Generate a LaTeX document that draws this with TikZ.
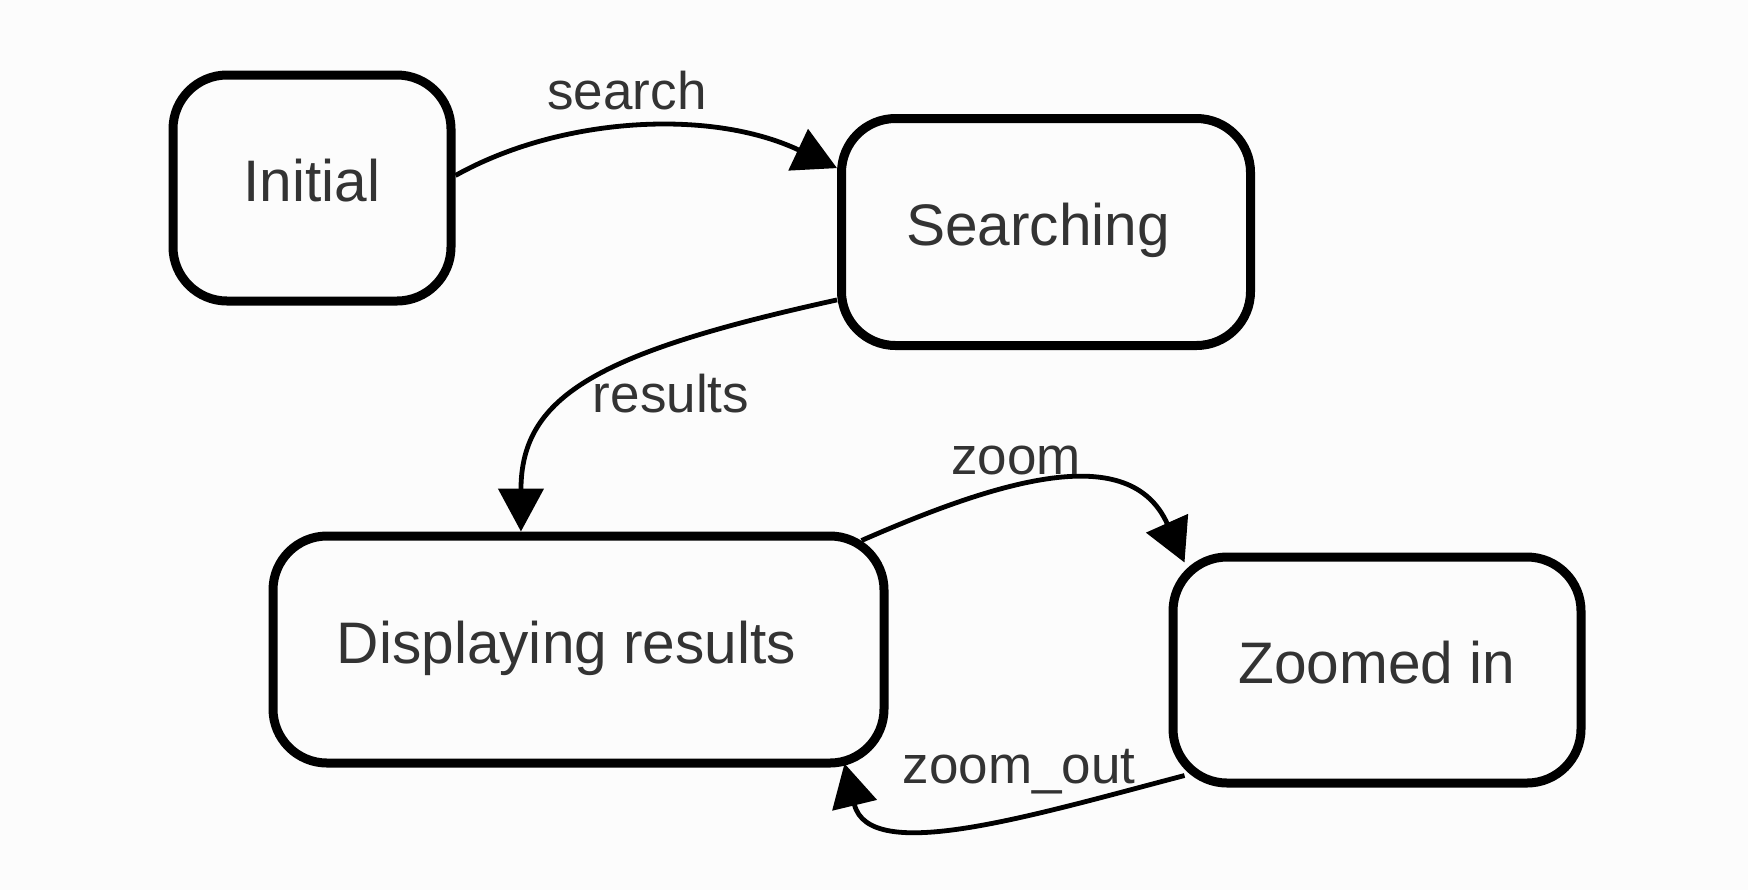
\documentclass[tikz,border=0pt]{standalone}
\usepackage{fontspec}
\setmainfont{Liberation Sans}
\usetikzlibrary{arrows.meta}
\definecolor{txt}{HTML}{333333}
\definecolor{bg}{HTML}{FCFCFC}
\begin{document}
\begin{tikzpicture}[x=0.5pt,y=-0.5pt,
  state/.style={draw=black, line width=4.5pt, rounded corners=27pt, text=txt,
    font=\fontsize{29.3}{34}\selectfont, text height=20pt, text depth=6.5pt, inner sep=0pt},
  lbl/.style={text=txt, font=\fontsize{26.5}{32}\selectfont, inner sep=0pt, anchor=base},
  conn/.style={line width=2.4pt, -{Triangle[length=21.5pt,width=22.5pt]}}
]
\path[fill=bg, use as bounding box] (0,0) rectangle (1748,890);

\node[state, minimum width=139pt, minimum height=113pt] (init) at (312,188) {Initial};
\node[state, minimum width=204.5pt, minimum height=113.5pt] (srch) at (1046,232) {\hspace*{-8pt}Searching};
\node[state, minimum width=305.5pt, minimum height=113.5pt] (disp) at (578.5,649.5) {\hspace*{-12pt}Displaying results};
\node[state, minimum width=204pt, minimum height=113pt] (zoom) at (1377,670) {Zoomed in};

\draw[conn] (init.5) .. controls (560,117) and (710,108) .. (srch.163);
\draw[conn] (srch.198) .. controls (600,352) and (521,395) .. (disp.116);
\draw[conn] ([shift={(-27,9)}]disp.north east) .. controls (1000,480) and (1130,440) .. ([shift={(16,10)}]zoom.north west);
\draw[conn] ([shift={(16,-12)}]zoom.south west) .. controls (1030,816) and (869,865) .. ([shift={(-44,-4)}]disp.south east);

\node[lbl] (lsearch) at (627,109) {search};
\node[lbl] (lresults) at (671,412) {results};
\node[lbl] (lzoom) at (1016,474) {zoom};
\node[lbl] (lzoomout) at (1019,783) {zoom\_out};
\end{tikzpicture}
\end{document}
